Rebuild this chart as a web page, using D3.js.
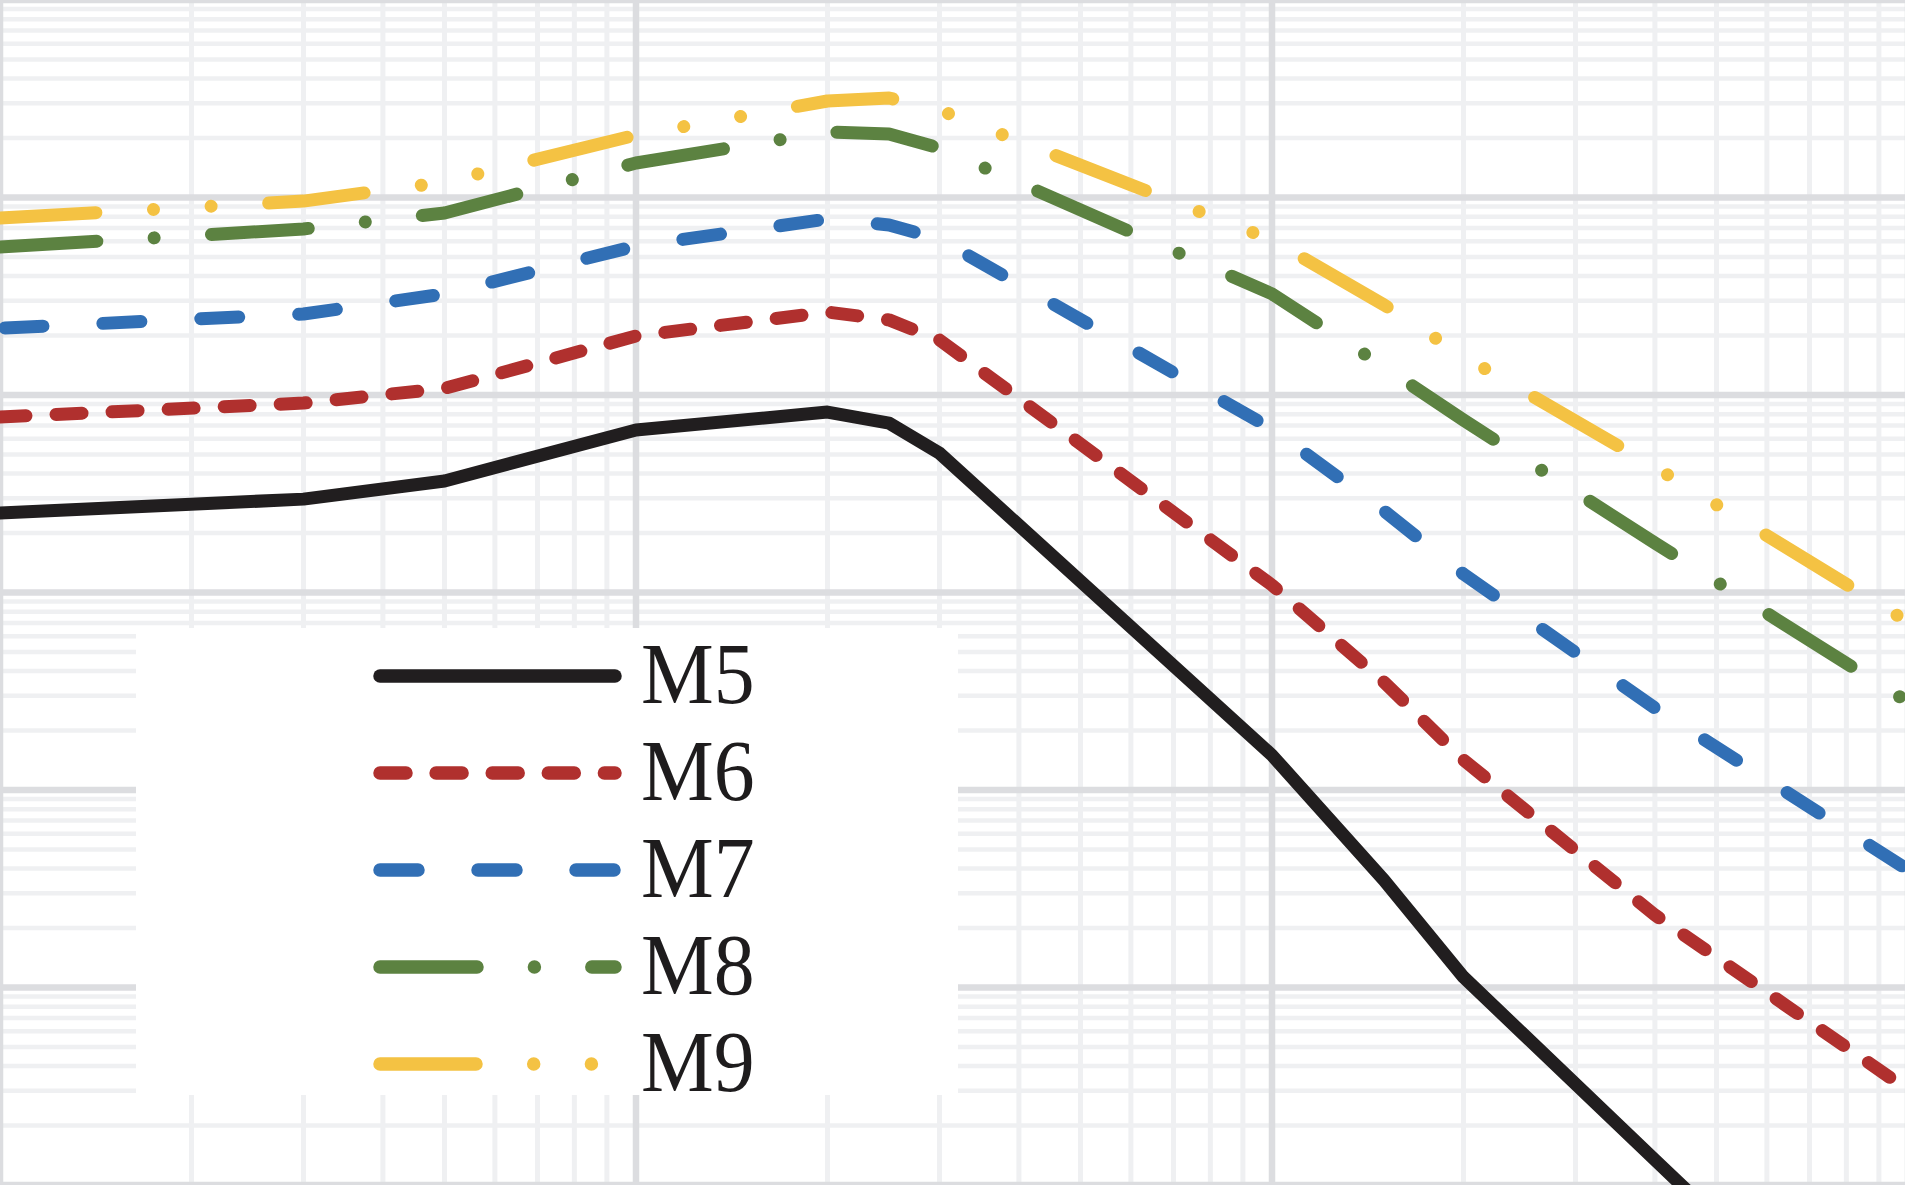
<!DOCTYPE html>
<html>
<head>
<meta charset="utf-8">
<script src="https://cdn.jsdelivr.net/npm/d3@7/dist/d3.min.js"></script>
<style>
  html, body { margin: 0; padding: 0; background: #ffffff; overflow: hidden; }
  svg { display: block; }
</style>
</head>
<body>
<svg id="chart" width="1905" height="1185"></svg>
<script>
// ---- data ----
const xValues = [1, 3, 5, 10, 20, 25, 30, 100, 150, 200, 400, 1000];
const seriesNames = ["M5", "M6", "M7", "M8", "M9"];
const M5 = [2.53, 2.97, 3.67, 6.65, 8.2, 7.2, 5.08, 0.150, 0.035, 0.0113, 0.00134, 0.000081];
const M6 = [7.74, 9.1, 10.8, 19.9, 26.3, 24.0, 19.0, 1.09, 0.352, 0.142, 0.0233, 0.00303];
const M7 = [21.8, 25.7, 32.5, 56.8, 77.8, 72.6, 61.6, 6.73, 2.59, 1.24, 0.260, 0.0394];
const M8 = [56.1, 69.3, 83.5, 149.5, 214.6, 209.7, 178, 32.5, 13.9, 7.47, 1.78, 0.279];
const M9 = [78.7, 95.9, 119.7, 207, 308, 319, 277, 60.9, 28.6, 15.7, 4.32, 0.709];
const xDomain = [1, 1000];
const yDomain = [1e-3, 1e3];

// ---- styles ----
const colors = ["#211e1f", "#b0302e", "#316fb5", "#5c8241", "#f4c243"];
const dashes = ["none", "26,30.1", "38,60", "97,57.4,0.01,57.4", "96,57.7,0.01,57.7,0.01,57.7"];
const offsets = [0, 0, -5, 0, 0];
const W = 1905, H = 1185;

const svg = d3.select("#chart");
const x = d3.scaleLog().domain(xDomain).range([0, 1908]);
const y = d3.scaleLog().domain(yDomain).range([H, 0]);

// grid values
const xMinor = [], xMajor = [];
for (let d = 1; d < 1000; d *= 10) { xMajor.push(d); for (let k = 2; k <= 9; k++) xMinor.push(d * k); }
xMajor.push(1000);
const yMinor = [], yMajor = [];
for (let e = -3; e < 3; e++) { const d = Math.pow(10, e); yMajor.push(d); for (let k = 2; k <= 9; k++) yMinor.push(d * k); }
yMajor.push(1000);

const grid = svg.append("g");
grid.selectAll("line.ymin").data(yMinor).join("line")
  .attr("x1", 0).attr("x2", W).attr("y1", d => y(d)).attr("y2", d => y(d))
  .attr("stroke", "#eff0f2").attr("stroke-width", 4.5);
grid.selectAll("line.xmin").data(xMinor).join("line")
  .attr("y1", 0).attr("y2", H).attr("x1", d => x(d)).attr("x2", d => x(d))
  .attr("stroke", "#eff0f2").attr("stroke-width", 5);
grid.selectAll("line.ymaj").data(yMajor).join("line")
  .attr("x1", 0).attr("x2", W).attr("y1", d => y(d)).attr("y2", d => y(d))
  .attr("stroke", "#dcdde0").attr("stroke-width", 6.5);
grid.selectAll("line.xmaj").data(xMajor).join("line")
  .attr("y1", 0).attr("y2", H).attr("x1", d => x(d)).attr("x2", d => x(d))
  .attr("stroke", "#dcdde0").attr("stroke-width", 6.5);

svg.append("clipPath").attr("id", "plotclip").append("rect")
  .attr("x", 0).attr("y", 0).attr("width", W).attr("height", H);

const series = [M5, M6, M7, M8, M9];
const line = d3.line().x(d => x(d[0])).y(d => y(d[1]));
const lines = svg.append("g").attr("clip-path", "url(#plotclip)");
series.forEach((vals, i) => {
  lines.append("path")
    .datum(xValues.map((xv, j) => [xv, vals[j]]))
    .attr("d", line)
    .attr("fill", "none")
    .attr("stroke", colors[i])
    .attr("stroke-width", 13)
    .attr("stroke-linecap", "round")
    .attr("stroke-linejoin", "round")
    .attr("stroke-dasharray", dashes[i])
    .attr("stroke-dashoffset", offsets[i]);
});

// ---- legend ----
const lg = svg.append("g");
lg.append("rect").attr("x", 136).attr("y", 628).attr("width", 822).attr("height", 467)
  .attr("fill", "#ffffff");
seriesNames.forEach((name, i) => {
  const ly = 676 + i * 97;
  lg.append("line").attr("x1", 380).attr("x2", 615).attr("y1", ly).attr("y2", ly)
    .attr("stroke", colors[i]).attr("stroke-width", 13.5)
    .attr("stroke-linecap", "round")
    .attr("stroke-dasharray", dashes[i]);
  lg.append("text")
    .attr("transform", `translate(641,${ly + 27}) scale(0.94,1)`)
    .attr("font-family", "'Liberation Serif', 'Times New Roman', serif")
    .attr("font-size", 87)
    .attr("fill", "#1e1c1d")
    .text(name);
});
</script>
</body>
</html>
